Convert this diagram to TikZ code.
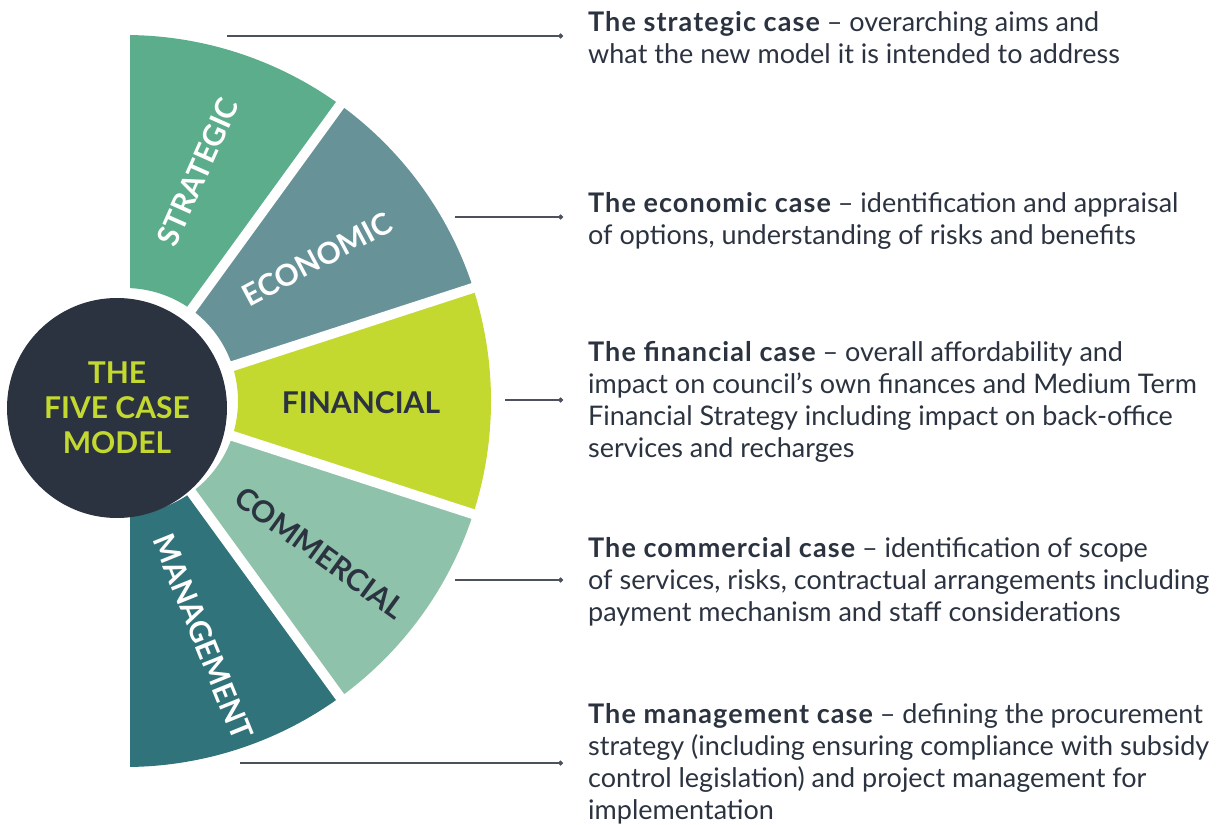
\documentclass[tikz,border=0pt]{standalone}
\usepackage{fontspec}
\setmainfont{Lato}
\usepackage{tikz}
\usepackage{xcolor}
\usetikzlibrary{arrows.meta}
\definecolor{stratgreen}{HTML}{5BAD8B}
\definecolor{econteal}{HTML}{679398}
\definecolor{fingreen}{HTML}{C3D930}
\definecolor{commint}{HTML}{8FC2AB}
\definecolor{mgmtteal}{HTML}{30737A}
\definecolor{navy}{HTML}{2C3340}
\newcommand{\casename}[1]{{\bfseries\addfontfeatures{LetterSpace=4}#1}}

\begin{document}
\begin{tikzpicture}[x=1pt,y=1pt,
    seglabel/.style={font=\fontsize{30}{32}\selectfont\bfseries, inner sep=0pt},
    gapline/.style={white, line width=10pt},
    leader/.style={navy!85, line width=1.2pt, -{Circle[length=5pt]}},
    casetext/.style={anchor=north west, align=left, inner sep=0pt, text=navy,
        font=\fontsize{27}{32}\selectfont}]
    \useasboundingbox (0,0) rectangle (1225,-824);

    % Draw the five segments of the half ring
    \begin{scope}[shift={(125,-401)}]
    \fill[stratgreen] (54:113) arc[start angle=54, end angle=90, radius=113pt]
        -- (90:366) arc[start angle=90, end angle=54, radius=366pt] -- cycle;
    \fill[econteal] (18:113) arc[start angle=18, end angle=54, radius=113pt]
        -- (54:366) arc[start angle=54, end angle=18, radius=366pt] -- cycle;
    \fill[fingreen] (-18:113) arc[start angle=-18, end angle=18, radius=113pt]
        -- (18:366) arc[start angle=18, end angle=-18, radius=366pt] -- cycle;
    \fill[commint] (-54:113) arc[start angle=-54, end angle=-18, radius=113pt]
        -- (-18:366) arc[start angle=-18, end angle=-54, radius=366pt] -- cycle;
    \fill[mgmtteal] (-90:113) arc[start angle=-90, end angle=-54, radius=113pt]
        -- (-54:366) arc[start angle=-54, end angle=-90, radius=366pt] -- cycle;

    % White gaps between segments
    \draw[gapline] (90:100) -- (90:380);
    \draw[gapline] (54:100) -- (54:380);
    \draw[gapline] (18:100) -- (18:380);
    \draw[gapline] (-18:100) -- (-18:380);
    \draw[gapline] (-54:100) -- (-54:380);
    \draw[gapline] (-90:100) -- (-90:380);
    \end{scope}

    % Segment labels
    \node[seglabel, white, rotate=66] (lstrat) at (198,-172) {STRATEGIC};
    \node[seglabel, white, rotate=28] (lecon) at (317,-259) {ECONOMIC};
    \node[seglabel, navy] (lfin) at (361,-403) {FINANCIAL};
    \node[seglabel, navy, rotate=-36] (lcomm) at (320,-553) {COMMERCIAL};
    \node[seglabel, white, rotate=-68] (lmgmt) at (203,-637) {MANAGEMENT};

    % Centre circle
    \node[circle, fill=navy, minimum size=220pt, inner sep=0pt, text=fingreen,
        align=center, font=\fontsize{30}{35}\selectfont\bfseries] (core) at (117,-408)
        {THE\\FIVE CASE\\MODEL};

    % Leader lines
    \coordinate (sstrat) at (227,-36);  \coordinate (estrat) at (563,-36);
    \coordinate (secon) at (455,-217);  \coordinate (eecon) at (563,-217);
    \coordinate (sfin) at (505,-400);   \coordinate (efin) at (563,-400);
    \coordinate (scomm) at (455,-580);  \coordinate (ecomm) at (563,-580);
    \coordinate (smgmt) at (240,-763);  \coordinate (emgmt) at (563,-763);
    \draw[leader] (sstrat) -- (estrat);
    \draw[leader] (secon) -- (eecon);
    \draw[leader] (sfin) -- (efin);
    \draw[leader] (scomm) -- (ecomm);
    \draw[leader] (smgmt) -- (emgmt);

    % Case descriptions
    \node[casetext] (tstrat) at (588,-11) {\casename{The strategic case} -- overarching aims and\\
        what the new model it is intended to address};
    \node[casetext] (tecon) at (588,-192) {\casename{The economic case} -- identification and appraisal\\
        of options, understanding of risks and benefits};
    \node[casetext] (tfin) at (588,-341) {\casename{The financial case} -- overall affordability and\\
        impact on council’s own finances and Medium Term\\
        Financial Strategy including impact on back-office\\
        services and recharges};
    \node[casetext] (tcomm) at (588,-537) {\casename{The commercial case} -- identification of scope\\
        of services, risks, contractual arrangements including\\
        payment mechanism and staff considerations};
    \node[casetext] (tmgmt) at (588,-703) {\casename{The management case} -- defining the procurement\\
        strategy (including ensuring compliance with subsidy\\
        control legislation) and project management for\\
        implementation};
\end{tikzpicture}
\end{document}
